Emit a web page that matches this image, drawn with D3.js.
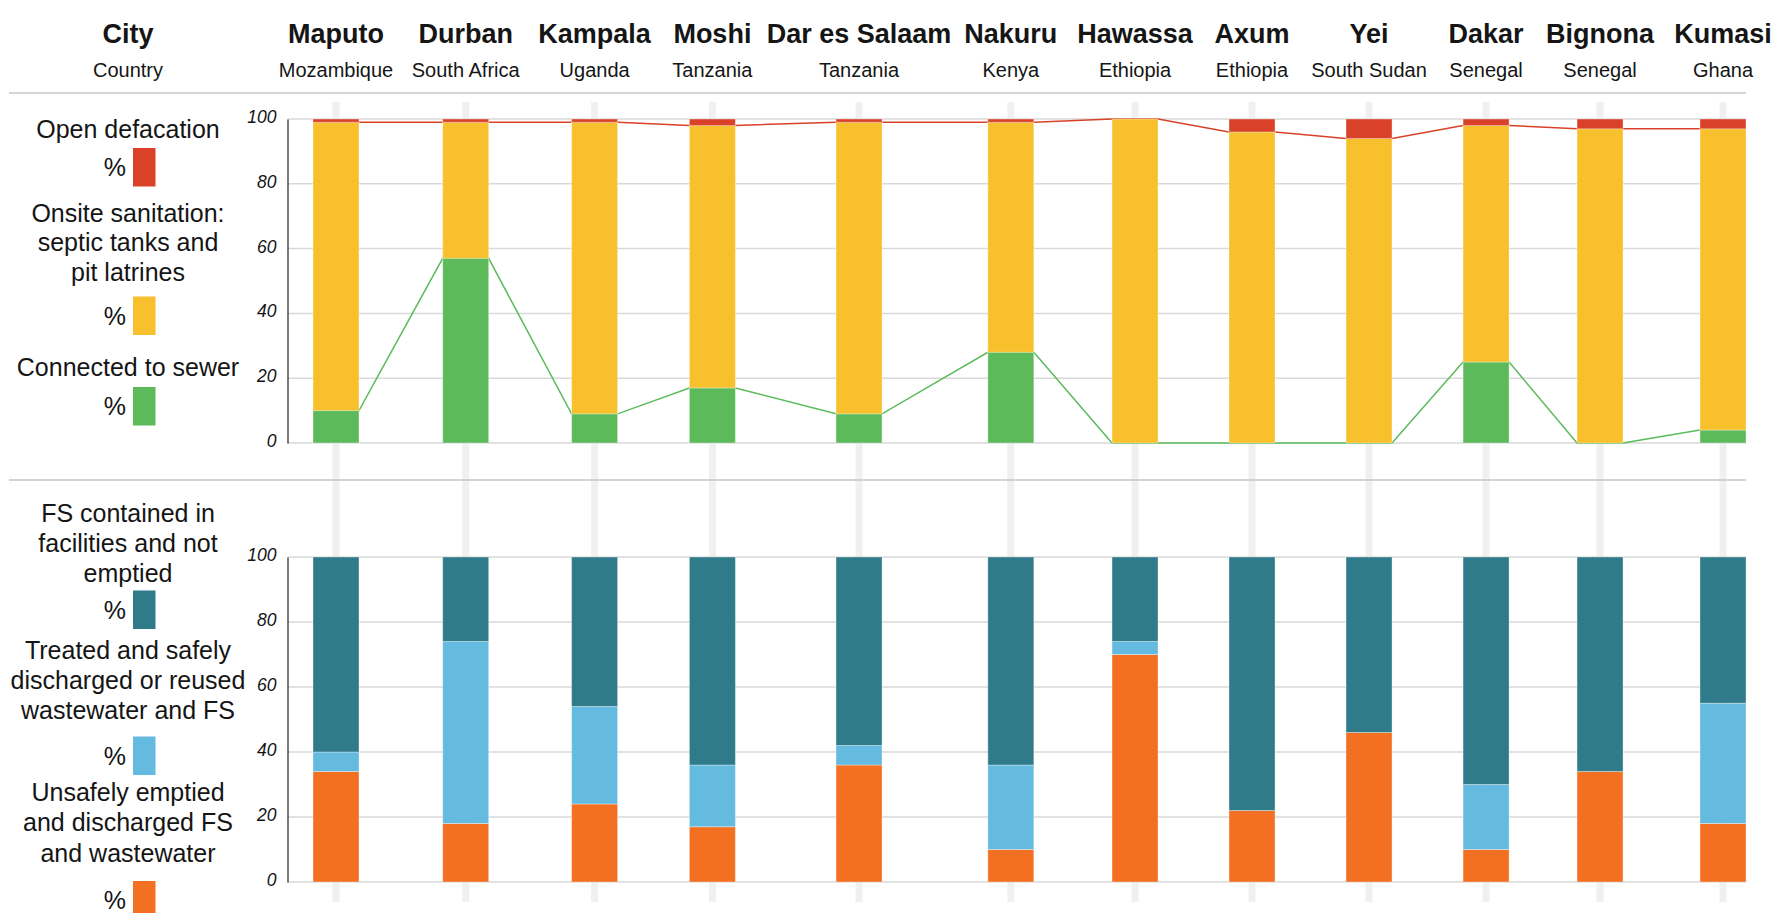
<!DOCTYPE html>
<html>
<head>
<meta charset="utf-8">
<script src="https://cdn.jsdelivr.net/npm/d3@7/dist/d3.min.js"></script>
<style>
  html, body { margin: 0; padding: 0; background: #fff; }
  svg { display: block; font-family: "Liberation Sans", Arial, Helvetica, sans-serif; }
</style>
</head>
<body>
<svg id="chart" width="1774" height="913"></svg>
<script>
// ---------------- DATA ----------------
const cities = ["Maputo","Durban","Kampala","Moshi","Dar es Salaam","Nakuru","Hawassa","Axum","Yei","Dakar","Bignona","Kumasi"];
const countries = ["Mozambique","South Africa","Uganda","Tanzania","Tanzania","Kenya","Ethiopia","Ethiopia","South Sudan","Senegal","Senegal","Ghana"];

// Top panel (% of population)
const sewer   = [10, 57,  9, 17,  9, 28,   0,  0,  0, 25,  0,  4];
const onsite  = [89, 42, 90, 81, 90, 71, 100, 96, 94, 73, 97, 93];
const openDef = [ 1,  1,  1,  2,  1,  1,   0,  4,  6,  2,  3,  3];

// Bottom panel (% of faecal sludge / wastewater)
const unsafe    = [34, 18, 24, 17, 36, 10, 70, 22, 46, 10, 34, 18];
const treated   = [ 6, 56, 30, 19,  6, 26,  4,  0,  0, 20,  0, 37];
const contained = [60, 26, 46, 64, 58, 64, 26, 78, 54, 70, 66, 45];

const yTicks = [0, 20, 40, 60, 80, 100];

const headerLabels = ["City", "Country"];
const topLegendLabels = [["Open defacation"], ["Onsite sanitation:", "septic tanks and", "pit latrines"], ["Connected to sewer"]];
const bottomLegendLabels = [["FS contained in", "facilities and not", "emptied"], ["Treated and safely", "discharged or reused", "wastewater and FS"], ["Unsafely emptied", "and discharged FS", "and wastewater"]];
const unitLabel = "%";

// ---------------- STYLE / LAYOUT ----------------
const C = {
  red: "#da4129", yellow: "#f8c02c", green: "#5cba5b",
  teal: "#2f7b89", lblue: "#64bbdf", orange: "#f37023",
  text: "#151515", grid: "#d9d9d9", sep: "#c6c6c6", vline: "#f0f0f0"
};
const plotLeft = 287.5, plotRight = 1746, barW = 46;
const firstCenter = 313 + barW / 2, lastCenter = plotRight - barW / 2;
const legendX = 128;
const widthWeight = 0.8; // how much column spacing follows label width

const svg = d3.select("#chart");

// ---- header text (measured to lay out columns) ----
const header = svg.append("g");
const cityText = header.selectAll("text.city").data(cities).join("text")
  .attr("class", "city").attr("y", 43).attr("text-anchor", "middle")
  .style("font-size", "27px").style("font-weight", "bold").attr("fill", C.text).text(d => d);
const countryText = header.selectAll("text.country").data(countries).join("text")
  .attr("class", "country").attr("y", 77).attr("text-anchor", "middle")
  .style("font-size", "20px").attr("fill", C.text).text(d => d);

const colW = cities.map((c, i) => Math.max(cityText.nodes()[i].getComputedTextLength(), countryText.nodes()[i].getComputedTextLength()));
let halfSum = 0;
for (let i = 0; i < colW.length - 1; i++) halfSum += (colW[i] + colW[i + 1]) / 2;
const gap = (lastCenter - firstCenter - widthWeight * halfSum) / (colW.length - 1);
const centers = [firstCenter];
for (let i = 1; i < colW.length; i++) centers.push(centers[i - 1] + widthWeight * (colW[i - 1] + colW[i]) / 2 + gap);

const x = d3.scaleOrdinal().domain(cities).range(centers);
cityText.attr("x", d => x(d));
countryText.attr("x", (d, i) => x(cities[i]));

header.append("text").attr("x", legendX).attr("y", 43).attr("text-anchor", "middle")
  .style("font-size", "27px").style("font-weight", "bold").attr("fill", C.text).text(headerLabels[0]);
header.append("text").attr("x", legendX).attr("y", 77).attr("text-anchor", "middle")
  .style("font-size", "20px").attr("fill", C.text).text(headerLabels[1]);

// ---- background vertical guide lines ----
svg.append("g").selectAll("line").data(cities).join("line")
  .attr("x1", d => x(d)).attr("x2", d => x(d)).attr("y1", 102).attr("y2", 902)
  .attr("stroke", C.vline).attr("stroke-width", 7);

// ---- separators ----
[93, 480].forEach(yy => svg.append("line").attr("x1", 9).attr("x2", plotRight).attr("y1", yy).attr("y2", yy)
  .attr("stroke", C.sep).attr("stroke-width", 1.5));

// ---- panel builder ----
function panel(y0px, y100px, series, colors, lineSeries) {
  const y = d3.scaleLinear().domain([0, 100]).range([y0px, y100px]);
  const g = svg.append("g");
  g.append("g").selectAll("line").data(yTicks).join("line")
    .attr("x1", plotLeft).attr("x2", plotRight).attr("y1", d => y(d)).attr("y2", d => y(d))
    .attr("stroke", C.grid).attr("stroke-width", 1.5);
  const ax = g.append("g").attr("transform", `translate(${plotLeft},0)`)
    .call(d3.axisLeft(y).tickValues(yTicks).tickSize(0).tickSizeOuter(0).tickPadding(11).tickFormat(d3.format("d")));
  ax.select(".domain").attr("stroke", "#222").attr("stroke-width", 1.2);
  ax.selectAll("text").style("font-size", "17.5px").style("font-style", "italic")
    .attr("fill", C.text).attr("dy", "0.2em");
  const line = d3.line().x(d => d[0]).y(d => y(d[1]));
  lineSeries.forEach(ls => {
    const pts = [];
    cities.forEach((c, i) => { pts.push([x(c) - barW / 2, ls.values[i]]); pts.push([x(c) + barW / 2, ls.values[i]]); });
    g.append("path").attr("d", line(pts)).attr("fill", "none").attr("stroke", ls.color).attr("stroke-width", 1.5);
  });
  const rows = cities.map((c, i) => { const o = { city: c }; series.forEach((s, k) => o["s" + k] = s[i]); return o; });
  const stack = d3.stack().keys(series.map((s, k) => "s" + k))(rows);
  g.append("g").selectAll("g").data(stack).join("g").attr("fill", (d, k) => colors[k])
    .selectAll("rect").data(d => d).join("rect")
    .attr("x", d => x(d.data.city) - barW / 2).attr("width", barW)
    .attr("y", d => y(d[1])).attr("height", d => Math.max(0, y(d[0]) - y(d[1])))
    .attr("stroke", "rgba(255,255,255,0.35)").attr("stroke-width", 1);
  return y;
}

panel(443, 119, [sewer, onsite, openDef], [C.green, C.yellow, C.red], [
  { values: sewer, color: C.green },
  { values: sewer.map((v, i) => v + onsite[i]), color: C.red }
]);
panel(882, 557, [unsafe, treated, contained], [C.orange, C.lblue, C.teal], []);

// ---- legends ----
function legend(labels, colors, firstBaselines, swatchTops, lh) {
  const g = svg.append("g");
  labels.forEach((lines, k) => {
    lines.forEach((t, j) => g.append("text").attr("x", legendX).attr("y", firstBaselines[k] + j * lh)
      .attr("text-anchor", "middle").style("font-size", "25px").attr("fill", C.text).text(t));
    g.append("text").attr("x", legendX - 2).attr("y", swatchTops[k] + 28).attr("text-anchor", "end")
      .style("font-size", "25px").attr("fill", C.text).text(unitLabel);
    g.append("rect").attr("x", legendX + 5).attr("y", swatchTops[k]).attr("width", 22.5).attr("height", 38.5)
      .attr("fill", colors[k]);
  });
}
legend(topLegendLabels, [C.red, C.yellow, C.green], [138, 221.5, 375.5], [148, 296.5, 387], 29.5);
legend(bottomLegendLabels, [C.teal, C.lblue, C.orange], [521.5, 658.5, 801], [590.5, 736.5, 881], 30.3);
</script>
</body>
</html>
